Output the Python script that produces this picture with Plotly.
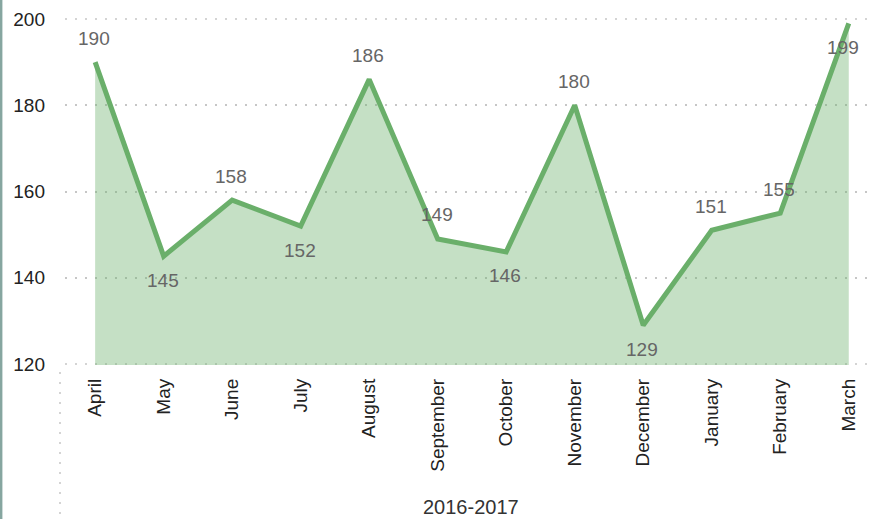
import plotly.graph_objects as go

months = ["April", "May", "June", "July", "August", "September", "October",
          "November", "December", "January", "February", "March"]
values = [190, 145, 158, 152, 186, 149, 146, 180, 129, 151, 155, 199]
x_title = "2016-2017"
y_ticks = [120, 140, 160, 180, 200]

# label placement (style): +1 above the point, -1 below
label_side = [1, -1, 1, -1, 1, 1, -1, 1, -1, 1, 1, -1]

FONT = "Liberation Sans, Arial, sans-serif"
GRID = "#c6c6c6"
GRID_DASH = "2px,8px"

fig = go.Figure()
fig.add_trace(go.Scatter(
    x=months, y=values, mode="lines",
    fill="tozeroy", fillcolor="rgba(106,175,106,0.39)",
    line=dict(color="#6aaf6a", width=5),
    hoverinfo="skip",
))

# plot area in pixels: x 65..870, y 18..365
PL, PR, PT, PB = 65, 870, 18, 365
PW, PH = PR - PL, PB - PT

annotations = []
for i, (m, v) in enumerate(zip(months, values)):
    xs = -6 if i == len(months) - 1 else -1
    annotations.append(dict(
        x=m, y=v, xref="x", yref="y", text=str(v), showarrow=False,
        xanchor="center", yanchor="middle",
        yshift=24 * label_side[i], xshift=xs,
        font=dict(family=FONT, size=19, color="#666666"),
    ))
annotations.append(dict(
    text=x_title, xref="paper", yref="paper",
    x=(471 - PL) / PW, y=(PB - 507) / PH,
    showarrow=False, xanchor="center", yanchor="middle",
    font=dict(family=FONT, size=20, color="#333333"),
))

shapes = [
    dict(type="line", xref="paper", yref="paper",
         x0=(1.2 - PL) / PW, x1=(1.2 - PL) / PW,
         y0=(PB - 0) / PH, y1=(PB - 519) / PH,
         line=dict(color="#86a6a0", width=2.4)),
    dict(type="line", xref="paper", yref="paper",
         x0=(60 - PL) / PW, x1=(60 - PL) / PW,
         y0=(PB - 372) / PH, y1=(PB - 519) / PH,
         line=dict(color=GRID, width=1.5, dash=GRID_DASH)),
]
# edge gridlines (plotly omits grid lines at the plot edges)
for yv in (y_ticks[0], y_ticks[-1]):
    shapes.append(dict(type="line", xref="paper", yref="y", layer="below",
                       x0=0, x1=1, y0=yv, y1=yv,
                       line=dict(color=GRID, width=1.5, dash=GRID_DASH)))

fig.update_layout(
    width=879, height=519,
    margin=dict(l=PL, r=879 - PR, t=PT, b=519 - PB),
    paper_bgcolor="white", plot_bgcolor="white",
    showlegend=False,
    font=dict(family=FONT, size=19, color="#222222"),
    xaxis=dict(
        type="category", range=[-0.44, 11.31],
        tickangle=-90, showgrid=False, showline=False, zeroline=False,
        ticks="", ticklabelstandoff=9,
        tickfont=dict(family=FONT, size=19, color="#222222"),
    ),
    yaxis=dict(
        range=[119.77, 200.23], tickvals=y_ticks,
        showgrid=True, gridcolor=GRID, griddash=GRID_DASH, gridwidth=1.5,
        zeroline=False, showline=False, ticks="", ticklabelstandoff=19,
        tickfont=dict(family=FONT, size=19, color="#222222"),
    ),
    annotations=annotations,
    shapes=shapes,
)

fig.write_html("out.html", config={"displayModeBar": False},
               post_script="document.body.style.margin='0';")
